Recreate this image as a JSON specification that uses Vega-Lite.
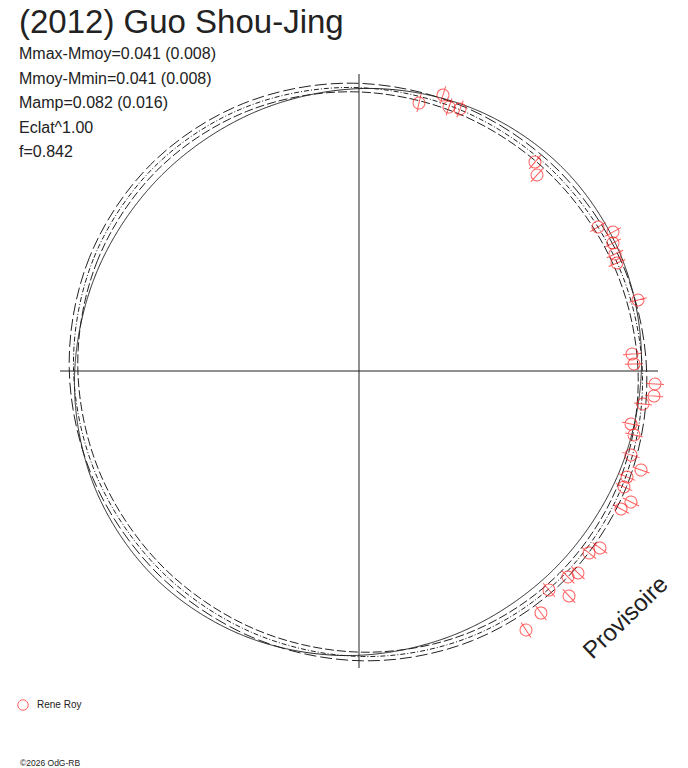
{
  "$schema": "https://vega.github.io/schema/vega-lite/v6.json",
  "width": 688,
  "height": 768,
  "autosize": {"type": "none"},
  "padding": 0,
  "title": {
    "text": "(2012) Guo Shou-Jing",
    "subtitle": ["Mmax-Mmoy=0.041 (0.008)", "Mmoy-Mmin=0.041 (0.008)", "Mamp=0.082 (0.016)", "Eclat^1.00", "f=0.842"],
    "anchor": "start",
    "frame": "group",
    "orient": "top",
    "offset": -160,
    "dx": 19,
    "font": "Liberation Sans",
    "fontSize": 33,
    "fontWeight": "normal",
    "color": "#222222",
    "subtitleFont": "Liberation Sans",
    "subtitleFontSize": 16,
    "subtitleColor": "#222222",
    "subtitleLineHeight": 24.4,
    "subtitlePadding": 6.5
  },
  "config": {"view": {"stroke": null}},
  "datasets": {
    "curves": [
      {"c": "S", "i": 0, "x": 203.4, "y": 203.4},
      {"c": "S", "i": 1, "x": 112.6, "y": 263.0},
      {"c": "S", "i": 2, "x": 4.5, "y": 282.5},
      {"c": "S", "i": 3, "x": -104.4, "y": 258.8},
      {"c": "S", "i": 4, "x": -197.6, "y": 195.6},
      {"c": "S", "i": 5, "x": -260.8, "y": 102.4},
      {"c": "S", "i": 6, "x": -284.5, "y": -6.5},
      {"c": "S", "i": 7, "x": -265.0, "y": -114.6},
      {"c": "S", "i": 8, "x": -205.4, "y": -205.4},
      {"c": "S", "i": 9, "x": -114.6, "y": -265.0},
      {"c": "S", "i": 10, "x": -6.5, "y": -284.5},
      {"c": "S", "i": 11, "x": 102.4, "y": -260.8},
      {"c": "S", "i": 12, "x": 195.6, "y": -197.6},
      {"c": "S", "i": 13, "x": 258.8, "y": -104.4},
      {"c": "S", "i": 14, "x": 282.5, "y": 4.5},
      {"c": "S", "i": 15, "x": 263.0, "y": 112.6},

      {"c": "D1", "i": 0, "x": -202.3, "y": 200.3},
      {"c": "D1", "i": 1, "x": -261.6, "y": 110.3},
      {"c": "D1", "i": 2, "x": -281.2, "y": 3.4},
      {"c": "D1", "i": 3, "x": -258.2, "y": -104.1},
      {"c": "D1", "i": 4, "x": -196.0, "y": -196.0},
      {"c": "D1", "i": 5, "x": -104.1, "y": -258.2},
      {"c": "D1", "i": 6, "x": 3.4, "y": -281.2},
      {"c": "D1", "i": 7, "x": 110.3, "y": -261.6},
      {"c": "D1", "i": 8, "x": 200.3, "y": -202.3},
      {"c": "D1", "i": 9, "x": 259.6, "y": -112.3},
      {"c": "D1", "i": 10, "x": 279.2, "y": -5.4},
      {"c": "D1", "i": 11, "x": 256.2, "y": 102.1},
      {"c": "D1", "i": 12, "x": 194.0, "y": 194.0},
      {"c": "D1", "i": 13, "x": 102.1, "y": 256.2},
      {"c": "D1", "i": 14, "x": -5.4, "y": 279.2},
      {"c": "D1", "i": 15, "x": -112.3, "y": 259.6},

      {"c": "D2", "i": 0, "x": -205.4, "y": 203.4},
      {"c": "D2", "i": 1, "x": -265.6, "y": 112.0},
      {"c": "D2", "i": 2, "x": -285.5, "y": 3.5},
      {"c": "D2", "i": 3, "x": -262.1, "y": -105.7},
      {"c": "D2", "i": 4, "x": -199.0, "y": -199.0},
      {"c": "D2", "i": 5, "x": -105.7, "y": -262.1},
      {"c": "D2", "i": 6, "x": 3.5, "y": -285.5},
      {"c": "D2", "i": 7, "x": 112.0, "y": -265.6},
      {"c": "D2", "i": 8, "x": 203.4, "y": -205.4},
      {"c": "D2", "i": 9, "x": 263.6, "y": -114.0},
      {"c": "D2", "i": 10, "x": 283.5, "y": -5.5},
      {"c": "D2", "i": 11, "x": 260.1, "y": 103.7},
      {"c": "D2", "i": 12, "x": 197.0, "y": 197.0},
      {"c": "D2", "i": 13, "x": 103.7, "y": 260.1},
      {"c": "D2", "i": 14, "x": -5.5, "y": 283.5},
      {"c": "D2", "i": 15, "x": -114.0, "y": 263.6},

      {"c": "D3", "i": 0, "x": -208.4, "y": 206.4},
      {"c": "D3", "i": 1, "x": -269.5, "y": 113.7},
      {"c": "D3", "i": 2, "x": -289.8, "y": 3.6},
      {"c": "D3", "i": 3, "x": -266.1, "y": -107.3},
      {"c": "D3", "i": 4, "x": -202.0, "y": -202.0},
      {"c": "D3", "i": 5, "x": -107.3, "y": -266.1},
      {"c": "D3", "i": 6, "x": 3.6, "y": -289.8},
      {"c": "D3", "i": 7, "x": 113.7, "y": -269.5},
      {"c": "D3", "i": 8, "x": 206.4, "y": -208.4},
      {"c": "D3", "i": 9, "x": 267.5, "y": -115.7},
      {"c": "D3", "i": 10, "x": 287.8, "y": -5.6},
      {"c": "D3", "i": 11, "x": 264.1, "y": 105.3},
      {"c": "D3", "i": 12, "x": 200.0, "y": 200.0},
      {"c": "D3", "i": 13, "x": 105.3, "y": 264.1},
      {"c": "D3", "i": 14, "x": -5.6, "y": 287.8},
      {"c": "D3", "i": 15, "x": -115.7, "y": 267.5}
    ],
    "axes": [
      {"x": -299, "y": 0, "x2": 299, "y2": 0},
      {"x": 0, "y": -297, "x2": 0, "y2": 297}
    ],
    "obs": [
      {"observer": "Rene Roy", "x": 60, "y": 268, "phase": -77},
      {"observer": "Rene Roy", "x": 84, "y": 276, "phase": -73},
      {"observer": "Rene Roy", "x": 90, "y": 264, "phase": -71},
      {"observer": "Rene Roy", "x": 101, "y": 262, "phase": -69},
      {"observer": "Rene Roy", "x": 176, "y": 209, "phase": -50},
      {"observer": "Rene Roy", "x": 178, "y": 196, "phase": -48},
      {"observer": "Rene Roy", "x": 239, "y": 144, "phase": -31},
      {"observer": "Rene Roy", "x": 254, "y": 139, "phase": -29},
      {"observer": "Rene Roy", "x": 254, "y": 128, "phase": -27},
      {"observer": "Rene Roy", "x": 256, "y": 117, "phase": -25},
      {"observer": "Rene Roy", "x": 258, "y": 108, "phase": -23},
      {"observer": "Rene Roy", "x": 279, "y": 71, "phase": -14},
      {"observer": "Rene Roy", "x": 273, "y": 17, "phase": -4},
      {"observer": "Rene Roy", "x": 275, "y": 7, "phase": -1},
      {"observer": "Rene Roy", "x": 296, "y": -13, "phase": 3},
      {"observer": "Rene Roy", "x": 295, "y": -25, "phase": 5},
      {"observer": "Rene Roy", "x": 284, "y": -33, "phase": 7},
      {"observer": "Rene Roy", "x": 272, "y": -53, "phase": 11},
      {"observer": "Rene Roy", "x": 275, "y": -64, "phase": 13},
      {"observer": "Rene Roy", "x": 272, "y": -84, "phase": 17},
      {"observer": "Rene Roy", "x": 282, "y": -99, "phase": 19},
      {"observer": "Rene Roy", "x": 268, "y": -106, "phase": 22},
      {"observer": "Rene Roy", "x": 265, "y": -116, "phase": 24},
      {"observer": "Rene Roy", "x": 272, "y": -131, "phase": 26},
      {"observer": "Rene Roy", "x": 262, "y": -138, "phase": 28},
      {"observer": "Rene Roy", "x": 241, "y": -177, "phase": 36},
      {"observer": "Rene Roy", "x": 230, "y": -182, "phase": 38},
      {"observer": "Rene Roy", "x": 219, "y": -202, "phase": 43},
      {"observer": "Rene Roy", "x": 209, "y": -206, "phase": 45},
      {"observer": "Rene Roy", "x": 190, "y": -219, "phase": 49},
      {"observer": "Rene Roy", "x": 210, "y": -225, "phase": 47},
      {"observer": "Rene Roy", "x": 182, "y": -242, "phase": 53},
      {"observer": "Rene Roy", "x": 167, "y": -259, "phase": 57}
    ]
  },
  "encoding": {
    "x": {"field": "x", "type": "quantitative", "scale": {"domain": [-359, 329], "nice": false, "zero": false}, "axis": null},
    "y": {"field": "y", "type": "quantitative", "scale": {"domain": [-397, 371], "nice": false, "zero": false}, "axis": null}
  },
  "layer": [
    {
      "data": {"name": "axes"},
      "mark": {"type": "rule", "color": "#222222", "strokeWidth": 1},
      "encoding": {
        "x2": {"field": "x2"},
        "y2": {"field": "y2"}
      }
    },
    {
      "data": {"name": "curves"},
      "mark": {"type": "line", "interpolate": "cardinal-closed", "color": "#222222", "strokeWidth": 1},
      "encoding": {
        "order": {"field": "i", "type": "quantitative"},
        "strokeDash": {
          "field": "c",
          "type": "nominal",
          "scale": {"domain": ["S", "D1", "D2", "D3"], "range": [[1, 0], [9, 3], [5, 2, 1, 2], [12, 4]]},
          "legend": null
        }
      }
    },
    {
      "data": {"name": "obs"},
      "mark": {
        "type": "point",
        "filled": false,
        "strokeWidth": 1,
        "size": 324,
        "shape": "M-1,0L1,0M0.667,0A0.667,0.667,0,1,1,-0.667,0A0.667,0.667,0,1,1,0.667,0Z"
      },
      "encoding": {
        "angle": {"field": "phase", "type": "quantitative", "scale": null},
        "color": {
          "field": "observer",
          "type": "nominal",
          "scale": {"range": ["#ff1a1a"]},
          "legend": {
            "title": null,
            "orient": "none",
            "legendX": 17,
            "legendY": 699,
            "padding": 0,
            "symbolType": "circle",
            "symbolSize": 110,
            "symbolStrokeWidth": 1,
            "labelFont": "Liberation Sans",
            "labelFontSize": 10,
            "labelColor": "#222222",
            "labelOffset": 8
          }
        }
      }
    },
    {
      "data": {"values": [{"note": "Provisoire", "x": 267, "y": -247}]},
      "mark": {"type": "text", "font": "Liberation Sans", "fontSize": 24, "angle": -44, "align": "center", "baseline": "middle", "color": "#222222"},
      "encoding": {"text": {"field": "note"}}
    },
    {
      "data": {"values": [{"note": "©2026 OdG-RB", "x": -339, "y": -392}]},
      "mark": {"type": "text", "font": "Liberation Sans", "fontSize": 8.5, "align": "left", "baseline": "middle", "color": "#222222"},
      "encoding": {"text": {"field": "note"}}
    }
  ]
}
